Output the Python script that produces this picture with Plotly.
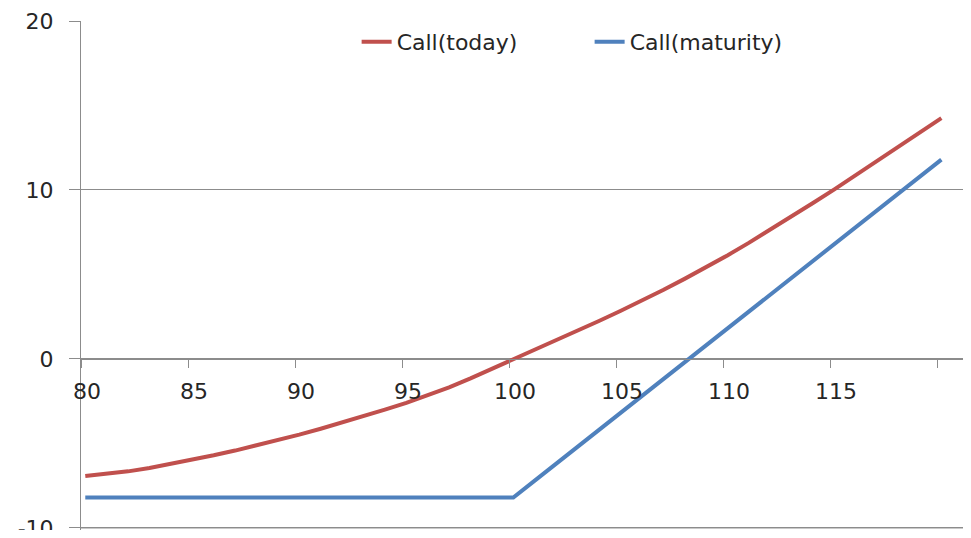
import plotly.graph_objects as go

# Underlying price (category positions as plotted) and payoffs
x_offset = 0.2
prices = [80, 81, 82, 83, 84, 85, 86, 87, 88, 89, 90, 91, 92, 93, 94, 95, 96, 97, 98, 99, 100,
          101, 102, 103, 104, 105, 106, 107, 108, 109, 110, 111, 112, 113, 114, 115, 116, 117, 118, 119, 120]
call_today = [-6.93, -6.81, -6.65, -6.45, -6.22, -5.97, -5.7, -5.42, -5.12, -4.81, -4.48,
              -4.13, -3.77, -3.39, -3.0, -2.6, -2.16, -1.68, -1.15, -0.59, 0.0,
              0.55, 1.1, 1.67, 2.25, 2.84, 3.45, 4.08, 4.74, 5.42, 6.13,
              6.87, 7.64, 8.43, 9.23, 10.04, 10.87, 11.71, 12.55, 13.4, 14.25]
call_maturity = [-8.2] * 21 + [-7.2, -6.2, -5.2, -4.2, -3.2, -2.2, -1.2, -0.2, 0.8, 1.8,
                               2.8, 3.8, 4.8, 5.8, 6.8, 7.8, 8.8, 9.8, 10.8, 11.8]
x_ticks = [80, 85, 90, 95, 100, 105, 110, 115, 120]
y_ticks = [-10, 0, 10, 20]
y_tick_labels = ["-10", "0", "10", "20"]

xs = [p + x_offset for p in prices]

FONT = "DejaVu Sans"
GRID = "#8c8c8c"
TXT = "#262626"
FS = 22
Y_MIN, Y_MAX = -10.12, 20
X_RANGE = [80, 121.21]

fig = go.Figure()
fig.add_trace(go.Scatter(x=xs, y=call_today, mode="lines", name="Call(today)",
                         line=dict(color="#C0504D", width=4)))
fig.add_trace(go.Scatter(x=xs, y=call_maturity, mode="lines", name="Call(maturity)",
                         line=dict(color="#4F81BD", width=4)))

# bottom gridline drawn explicitly (plotly drops the one on the plot edge)
bottom_frac = (y_ticks[0] - Y_MIN) / (Y_MAX - Y_MIN)
fig.add_shape(type="line", xref="paper", yref="paper", x0=0, x1=1,
              y0=bottom_frac, y1=bottom_frac, line=dict(color=GRID, width=1), layer="above")

fig.update_layout(
    width=955, height=522,
    margin=dict(l=73, r=0, t=13, b=0, autoexpand=False),
    paper_bgcolor="white", plot_bgcolor="white",
    font=dict(family=FONT, size=FS, color=TXT),
    showlegend=True,
    legend=dict(orientation="h", x=0.3125, y=1.0, xanchor="left", yanchor="top",
                font=dict(family=FONT, size=FS, color=TXT),
                bgcolor="rgba(0,0,0,0)", itemwidth=30, entrywidth=188),
    xaxis=dict(range=X_RANGE, tickvals=x_ticks, ticktext=[str(t) for t in x_ticks],
               showgrid=False, zeroline=False, showline=True, linecolor=GRID, linewidth=1,
               ticks="outside", ticklen=8, tickcolor=GRID, tickwidth=1, automargin=False,
               anchor="free", position=(0 - Y_MIN) / (Y_MAX - Y_MIN),
               ticklabelshift=6, ticklabelstandoff=5,
               tickfont=dict(family=FONT, size=FS, color=TXT)),
    yaxis=dict(range=[Y_MIN, Y_MAX], tickvals=y_ticks, ticktext=y_tick_labels,
               showgrid=True, gridcolor=GRID, gridwidth=1, automargin=False,
               zeroline=False, showline=True, linecolor=GRID, linewidth=1,
               ticks="outside", ticklen=11, tickcolor=GRID, tickwidth=1,
               ticklabelstandoff=11, ticklabeloverflow="allow",
               tickfont=dict(family=FONT, size=FS, color=TXT)),
)

fig.write_html("out.html")
